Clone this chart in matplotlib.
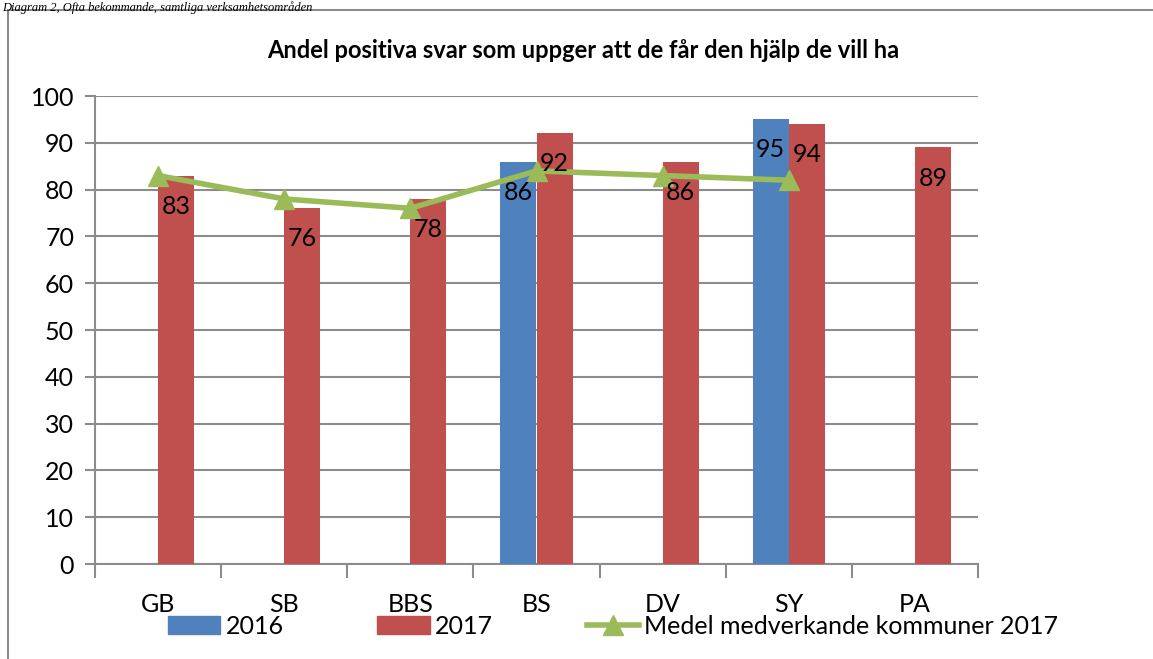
import numpy as np
import matplotlib
matplotlib.use('Agg')
import matplotlib.pyplot as plt
from matplotlib.patches import Patch, Rectangle
from matplotlib.lines import Line2D

# Chart data
categories = ['GB', 'SB', 'BBS', 'BS', 'DV', 'SY', 'PA']
values_2016 = [None, None, None, 86, None, 95, None]
values_2017 = [83, 76, 78, 92, 86, 94, 89]
medel_2017 = [83, 78, 76, 84, 83, 82, None]
y_ticks = [0, 10, 20, 30, 40, 50, 60, 70, 80, 90, 100]

title = 'Andel positiva svar som uppger att de får den hjälp de vill ha'
caption = 'Diagram 2, Ofta bekommande, samtliga verksamhetsområden'

blue = '#4F81BD'
red = '#C0504D'
green = '#9BBB59'
grid_grey = '#8C8C8C'

W, H = 1153, 659
fig = plt.figure(figsize=(W / 100, H / 100), dpi=100)
plt.rcParams['font.family'] = ['Lato', 'DejaVu Sans']

# axes placed in pixel coordinates of the reference
left, right, top, bottom = 95, 978, 96, 564
ax = fig.add_axes([left / W, 1 - bottom / H, (right - left) / W, (bottom - top) / H])

x = np.arange(len(categories))
w = 0.2857

x16 = [xi - w / 2 for xi, v in zip(x, values_2016) if v is not None]
v16 = [v for v in values_2016 if v is not None]
ax.bar(x16, v16, width=w, color=blue, zorder=3)
ax.bar(x + w / 2, values_2017, width=w, color=red, zorder=3)

mx = [xi for xi, v in zip(x, medel_2017) if v is not None]
mv = [v for v in medel_2017 if v is not None]
ax.plot(mx, mv, color=green, lw=4, marker='^', markersize=14, zorder=5)

# data labels inside bar end
for bx, bv in list(zip(x16, v16)) + list(zip(x + w / 2, values_2017)):
    ax.annotate(str(bv), (bx, bv), xytext=(0, -22), textcoords='offset points',
                ha='center', va='center', fontsize=18, color='black', zorder=6)

ax.set_xlim(-0.5, len(categories) - 0.5)
ax.set_ylim(0, 100)
ax.set_yticks(y_ticks)
ax.yaxis.grid(True, color=grid_grey, lw=1.5, zorder=0)
ax.set_axisbelow(True)
for s in ['top', 'right']:
    ax.spines[s].set_visible(False)
for s in ['left', 'bottom']:
    ax.spines[s].set_color(grid_grey)
    ax.spines[s].set_linewidth(1.5)

ax.tick_params(axis='y', length=7, width=1.5, color=grid_grey, labelsize=18, pad=8)
ax.set_xticks(np.arange(-0.5, len(categories) + 0.5, 1))
ax.set_xticklabels([])
ax.tick_params(axis='x', length=10, width=1.5, color=grid_grey)
ax.set_xticks(x, minor=True)
ax.set_xticklabels(categories, minor=True)
ax.tick_params(axis='x', which='minor', length=0, labelsize=18, pad=21)

fig.text(0.5 * (262 + 905) / W, 1 - 50 / H, title, ha='center', va='center',
         fontsize=17, fontweight='bold')

# outer chart frame
fig.patches.append(Rectangle((8 / W, -0.1), 1.2, 1 - 10 / H + 0.1, transform=fig.transFigure,
                             fill=False, edgecolor=grid_grey, lw=1.5))

# caption above the frame
fig.text(2 / W, 1 - 1 / H, caption, ha='left', va='top', fontsize=9,
         fontstyle='italic', family=['Liberation Serif', 'DejaVu Serif'])

handles = [Patch(color=blue, label='2016'),
           Patch(color=red, label='2017'),
           Line2D([], [], color=green, lw=4, marker='^', markersize=14,
                  label='Medel medverkande kommuner 2017')]
fig.legend(handles=handles, ncol=3, loc='center left', bbox_to_anchor=(168 / W, 1 - 626 / H),
           frameon=False, fontsize=18, handlelength=2.1, columnspacing=3.75,
           handletextpad=0.2, borderpad=0, borderaxespad=0)

fig.savefig('out.png', dpi=100)
